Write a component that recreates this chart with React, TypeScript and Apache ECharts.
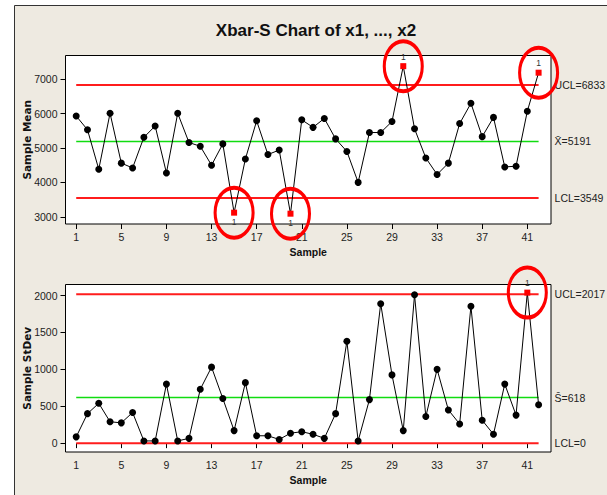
import React, { useEffect, useRef } from "react";
import * as echarts from "echarts";

// ---------- data ----------
const samples = [1, 2, 3, 4, 5, 6, 7, 8, 9, 10, 11, 12, 13, 14, 15, 16, 17, 18, 19, 20, 21, 22, 23, 24, 25, 26, 27, 28, 29, 30, 31, 32, 33, 34, 35, 36, 37, 38, 39, 40, 41, 42];
const sampleMeans = [5930, 5530, 4380, 6010, 4560, 4420, 5310, 5640, 4275, 6010, 5160, 5050, 4500, 5120, 3120, 4680, 5790, 4810, 4940, 3090, 5820, 5600, 5860, 5265, 4900, 4000, 5450, 5450, 5770, 7380, 5560, 4710, 4230, 4560, 5710, 6300, 5330, 5890, 4450, 4470, 6070, 7190];
const sampleStDevs = [85, 400, 540, 290, 275, 415, 30, 30, 800, 30, 65, 730, 1030, 605, 170, 820, 100, 100, 50, 135, 155, 120, 65, 400, 1380, 30, 590, 1890, 925, 170, 2010, 360, 1000, 450, 260, 1855, 310, 120, 800, 380, 2040, 520];
const meanLimits = { ucl: 6833, center: 5191, lcl: 3549 };
const sdLimits = { ucl: 2017, center: 618, lcl: 0 };
const xTicks = [1, 5, 9, 13, 17, 21, 25, 29, 33, 37, 41];
const meanTicks = [3000, 4000, 5000, 6000, 7000];
const sdTicks = [0, 500, 1000, 1500, 2000];
const titleText = "Xbar-S Chart of x1, ..., x2";

// ---------- styles ----------
const SANS = '"Liberation Sans", Arial, sans-serif';
const RED = "#ff1c1c";
const GREEN = "#10dc10";
const ELLIPSE = "path://M50,0 C77.6,0 100,22.4 100,50 C100,77.6 77.6,100 50,100 C22.4,100 0,77.6 0,50 C0,22.4 22.4,0 50,0 Z";

function buildPoints(vals: number[], ucl: number, lcl: number) {
  return samples.map((s, i) => {
    const v = vals[i];
    const out = v > ucl || v < lcl;
    if (!out) return { value: [s, v] };
    return {
      value: [s, v],
      symbol: "rect",
      symbolSize: 6,
      itemStyle: { color: "#ff0000" },
      label: {
        show: true,
        formatter: "1",
        position: v > ucl ? "top" : "bottom",
        distance: 2,
        fontSize: 8.5,
        color: "#333",
        fontFamily: SANS,
      },
    };
  });
}

function outPoints(vals: number[], ucl: number, lcl: number) {
  return samples
    .map((s, i) => [s, vals[i]])
    .filter((p) => p[1] > ucl || p[1] < lcl)
    .map((p) => ({ coord: p }));
}

function limitSeries(idx: number, value: number, color: string, width: number, text: string) {
  return {
    type: "line",
    xAxisIndex: idx,
    yAxisIndex: idx,
    data: [[samples[0], value], [samples[samples.length - 1], value]],
    symbol: "none",
    silent: true,
    z: 1,
    lineStyle: { color, width },
    endLabel: {
      show: true,
      formatter: text,
      distance: 16,
      color: "#222",
      fontSize: 10.5,
      fontFamily: SANS,
    },
  };
}

function dataSeries(idx: number, vals: number[], ucl: number, lcl: number) {
  return {
    type: "line",
    xAxisIndex: idx,
    yAxisIndex: idx,
    data: buildPoints(vals, ucl, lcl),
    symbol: "circle",
    symbolSize: 7,
    showAllSymbol: true,
    z: 3,
    itemStyle: { color: "#000" },
    lineStyle: { color: "#000", width: 1 },
    markPoint: {
      symbol: ELLIPSE,
      symbolSize: [38, 50],
      silent: true,
      label: { show: false },
      itemStyle: { color: "rgba(0,0,0,0)", borderColor: "#ff0000", borderWidth: 3.5 },
      data: outPoints(vals, ucl, lcl),
    },
  };
}

function xAxis(idx: number) {
  return {
    type: "value",
    gridIndex: idx,
    min: 0.05,
    max: 43.1,
    name: "Sample",
    nameLocation: "middle",
    nameGap: 22,
    nameMoveOverlap: false,
    nameTextStyle: { fontFamily: SANS, fontWeight: "bold", fontSize: 10.5, color: "#111" },
    axisLine: { show: false },
    splitLine: { show: false },
    axisTick: { show: true, length: 5, lineStyle: { color: "#000" }, customValues: xTicks },
    axisLabel: { customValues: xTicks, margin: 7, fontSize: 10.5, fontFamily: SANS, color: "#222", formatter: (v: number) => String(v) },
  };
}

function yAxis(idx: number, name: string, min: number, max: number, ticks: number[]) {
  return {
    type: "value",
    gridIndex: idx,
    min,
    max,
    name,
    nameLocation: "middle",
    nameGap: 33,
    nameMoveOverlap: false,
    nameTextStyle: { fontFamily: '"DejaVu Sans", sans-serif', fontWeight: "bold", fontSize: 10.5, color: "#111" },
    axisLine: { show: false },
    splitLine: { show: false },
    axisTick: { show: true, length: 5, lineStyle: { color: "#000" }, customValues: ticks },
    axisLabel: { customValues: ticks, margin: 8, fontSize: 10.5, fontFamily: SANS, color: "#222", formatter: (v: number) => String(v) },
  };
}

export default function App() {
  const ref = useRef<HTMLDivElement>(null);
  useEffect(() => {
    if (!ref.current) return;
    const chart = echarts.init(ref.current, null, { renderer: "svg" });
    chart.setOption({
      animation: false,
      backgroundColor: "#ffffff",
      title: {
        text: titleText,
        left: 311,
        top: 17,
        textAlign: "center",
        textStyle: { fontFamily: SANS, fontWeight: "bold", fontSize: 17, color: "#111" },
      },
      graphic: {
        elements: [
          {
            type: "rect",
            z: -100,
            silent: true,
            shape: { x: 14.5, y: 5.5, width: 700, height: 600 },
            style: { fill: "#eeeae1", stroke: "#333", lineWidth: 1 },
          },
        ],
      },
      grid: [
        { left: 65.5, top: 55.5, right: 56, bottom: 271, show: true, backgroundColor: "#fff", borderColor: "#000", borderWidth: 1 },
        { left: 65.5, top: 284.5, right: 56, bottom: 43, show: true, backgroundColor: "#fff", borderColor: "#000", borderWidth: 1 },
      ],
      xAxis: [xAxis(0), xAxis(1)],
      yAxis: [
        yAxis(0, "Sample Mean", 2790, 7690, meanTicks),
        yAxis(1, "Sample StDev", -120, 2150, sdTicks),
      ],
      series: [
        limitSeries(0, meanLimits.ucl, RED, 2, `UCL=${meanLimits.ucl}`),
        limitSeries(0, meanLimits.center, GREEN, 1.5, `X\u0304=${meanLimits.center}`),
        limitSeries(0, meanLimits.lcl, RED, 2, `LCL=${meanLimits.lcl}`),
        dataSeries(0, sampleMeans, meanLimits.ucl, meanLimits.lcl),
        limitSeries(1, sdLimits.ucl, RED, 2, `UCL=${sdLimits.ucl}`),
        limitSeries(1, sdLimits.center, GREEN, 1.5, `S\u0304=${sdLimits.center}`),
        limitSeries(1, sdLimits.lcl, RED, 2, `LCL=${sdLimits.lcl}`),
        dataSeries(1, sampleStDevs, sdLimits.ucl, sdLimits.lcl),
      ],
    });
    return () => chart.dispose();
  }, []);
  return <div ref={ref} style={{ position: "absolute", left: 0, top: 0, width: 607, height: 495 }} />;
}
